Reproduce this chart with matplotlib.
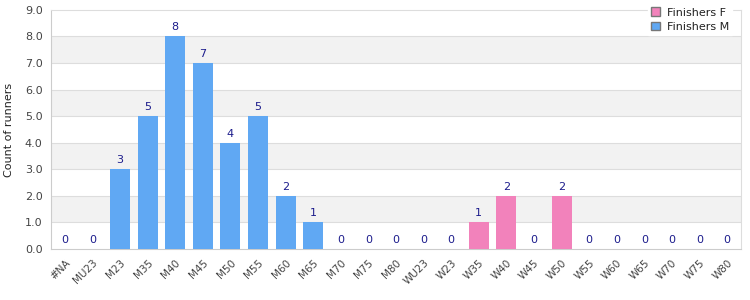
#!/usr/bin/env python3
"""Finishers per age category, split by gender, as a bar chart."""

import matplotlib
matplotlib.use("Agg")
import matplotlib.pyplot as plt
from matplotlib.patches import Patch

CATEGORIES = ["#NA", "MU23", "M23", "M35", "M40", "M45", "M50", "M55", "M60",
              "M65", "M70", "M75", "M80", "WU23", "W23", "W35", "W40", "W45",
              "W50", "W55", "W60", "W65", "W70", "W75", "W80"]
FINISHERS_M = [0, 0, 3, 5, 8, 7, 4, 5, 2, 1, 0, 0, 0, 0, 0, 0, 0, 0, 0, 0, 0,
               0, 0, 0, 0]
FINISHERS_F = [0, 0, 0, 0, 0, 0, 0, 0, 0, 0, 0, 0, 0, 0, 0, 1, 2, 0, 2, 0, 0,
               0, 0, 0, 0]
Y_MAX = 9.0

BLUE = "#60a8f3"
PINK = "#f282bb"
LABEL = "#1c1c8c"
GRID = "#dddddd"


def main():
    fig = plt.figure(figsize=(7.5, 3), dpi=100)
    ax = fig.add_axes([0.068, 0.17, 0.92, 0.797])

    x = list(range(len(CATEGORIES)))
    totals = [m + f for m, f in zip(FINISHERS_M, FINISHERS_F)]
    colors = [PINK if f > 0 else BLUE for f in FINISHERS_F]
    ax.bar(x, totals, width=0.72, color=colors, zorder=3)

    for xi, v in zip(x, totals):
        ax.text(xi, v + 0.15, f"{v}", ha="center", va="bottom",
                fontsize=8, color=LABEL, zorder=4)

    # alternating bands
    for lo in range(1, int(Y_MAX), 2):
        ax.axhspan(lo, lo + 1, color="#f2f2f2", zorder=0, lw=0)
    for y in range(1, int(Y_MAX)):
        ax.axhline(y, color=GRID, lw=0.8, zorder=1)

    ax.set_xlim(-0.5, len(CATEGORIES) - 0.5)
    ax.set_ylim(0, Y_MAX)
    ax.set_yticks(range(0, int(Y_MAX) + 1))
    ax.set_yticklabels([f"{v:.1f}" for v in range(0, int(Y_MAX) + 1)],
                       fontsize=8, color="#444444")
    ax.set_xticks(x)
    ax.set_xticklabels(CATEGORIES, rotation=45, ha="right",
                       rotation_mode="anchor", fontsize=7.5, color="#444444")
    ax.tick_params(axis="y", length=0, pad=6)
    ax.tick_params(axis="x", length=0, pad=6)
    ax.set_ylabel("Count of runners", fontsize=8, color="#222222", labelpad=8)

    for side in ("top", "right"):
        ax.spines[side].set_color(GRID)
    for side in ("left", "bottom"):
        ax.spines[side].set_color("#cccccc")

    handles = [Patch(facecolor=PINK, edgecolor="#777777", label="Finishers F"),
               Patch(facecolor=BLUE, edgecolor="#777777", label="Finishers M")]
    leg = fig.legend(handles=handles, loc="upper right",
                     bbox_to_anchor=(0.984, 1.005), fontsize=8, frameon=True,
                     fancybox=False, edgecolor="white", framealpha=1,
                     handlelength=0.8, handleheight=0.8, handletextpad=0.6,
                     labelspacing=0.4, borderpad=0.3)
    for t in leg.get_texts():
        t.set_color("#222222")

    fig.savefig("out.png", dpi=100)


if __name__ == "__main__":
    main()
